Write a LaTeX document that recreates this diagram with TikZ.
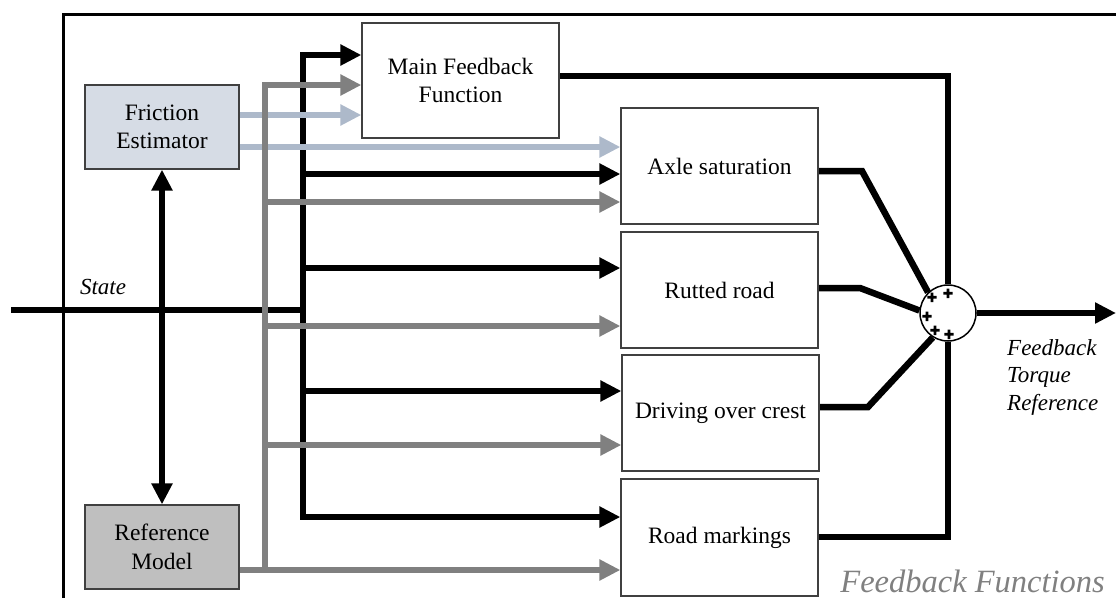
\documentclass[tikz,border=0pt]{standalone}
\usepackage{fontspec}
\setmainfont{Liberation Serif}
\newfontfamily\plusfont[FakeBold=10]{Liberation Sans}
\usetikzlibrary{arrows.meta}
\definecolor{feblue}{RGB}{214,220,229}
\definecolor{lbarrow}{RGB}{173,185,202}
\definecolor{rmgray}{RGB}{191,191,191}
\definecolor{garrow}{RGB}{128,128,128}
\definecolor{boxline}{RGB}{64,64,64}
\definecolor{fftext}{RGB}{128,128,128}
\pgfdeclarelayer{background}
\pgfsetlayers{background,main}
\begin{document}
\begin{tikzpicture}[x=1pt,y=-1pt,
  >={Triangle[length=21pt,width=20pt]},
  box/.style={draw=boxline,line width=1.2pt,fill=white,inner sep=0pt,align=center,
    minimum width=197pt,minimum height=116pt,font=\fontsize{23.5}{28.5}\selectfont},
  sbox/.style={box,minimum width=154pt,minimum height=84pt},
  bk/.style={line width=6.5pt,draw=black,line join=miter},
  gy/.style={line width=6.5pt,draw=garrow,line join=miter},
  lb/.style={line width=6.5pt,draw=lbarrow,line join=miter},
  sumc/.style={circle,draw=black,line width=1.5pt,fill=white,minimum size=56pt,inner sep=0pt},
  plusm/.style={inner sep=0pt,font=\plusfont\fontsize{16}{16}\selectfont},
  lbl/.style={inner sep=0pt,font=\fontsize{23}{27.5}\selectfont\itshape}]
\useasboundingbox (0,0) rectangle (1116,597);
% frame
\draw[line width=3pt] (63,610) -- (63,14) -- (1130,14);
% blocks
\node[sbox,fill=feblue] (fe) at (162,127) {Friction\\Estimator};
\node[sbox,fill=rmgray] (rm) at (162,547) {Reference\\Model};
\node[box,minimum height=115pt] (mf) at (460.5,80.5) {Main Feedback\\Function};
\node[box] (ax) at (719.5,166) {Axle saturation};
\node[box] (rr) at (719.5,290) {Rutted road};
\node[box] (dc) at (720.5,413) {Driving over crest};
\node[box,minimum height=117pt] (rmk) at (719.5,537.5) {Road markings};
\node[sumc] (sum) at (948,313) {};
\node[plusm] (p1) at (932,298) {+};
\node[plusm] (p2) at (948,294) {+};
\node[plusm] (p3) at (927,317) {+};
\node[plusm] (p4) at (935,331) {+};
\node[plusm] (p5) at (949,335) {+};
% coordinates
\coordinate (sIn) at (11,310);
\coordinate (bJ) at (303,310);
\coordinate (b1) at (303,55);
\coordinate (b2) at (303,174);
\coordinate (b3) at (303,268);
\coordinate (b4) at (303,391);
\coordinate (b5) at (303,517);
\coordinate (g1) at (265,85);
\coordinate (g2) at (265,202);
\coordinate (g3) at (265,326);
\coordinate (g4) at (265,445);
\coordinate (g5) at (265,570);
\coordinate (l1) at (239,115);
\coordinate (l2) at (239,147);
\coordinate (o1) at (948,76);
\coordinate (o2) at (862,171);
\coordinate (o3) at (860,288);
\coordinate (o4) at (868,407);
\coordinate (o5) at (948,537);
\coordinate (out) at (1116,313);
\begin{pgfonlayer}{background}
% black bus
\draw[bk] (sIn) -- (bJ);
\draw[bk,->] (b3) -- (b1) -- (b1 -| mf.west);
\draw[bk,->] (b3) -- (b5) -- (b5 -| rmk.west);
\draw[bk,->] (b2) -- (b2 -| ax.west);
\draw[bk,->] (b3) -- (b3 -| rr.west);
\draw[bk,->] (b4) -- (b4 -| dc.west);
\draw[bk,<->] (fe.south) -- (rm.north);
% light blue
\draw[lb,->] (l1) -- (l1 -| mf.west);
\draw[lb,->] (l2) -- (l2 -| ax.west);
% gray bus
\draw[gy,->] (rm.east |- g5) -- (g5 -| rmk.west);
\draw[gy,->] (g5) -- (g1) -- (g1 -| mf.west);
\draw[gy,->] (g2) -- (g2 -| ax.west);
\draw[gy,->] (g3) -- (g3 -| rr.west);
\draw[gy,->] (g4) -- (g4 -| dc.west);
% outputs
\draw[bk] (mf.east |- o1) -- (o1) -- (sum.north);
\draw[bk] (ax.east |- o2) -- (o2) -- (sum.134);
\draw[bk] (rr.east |- o3) -- (o3) -- (sum.175);
\draw[bk] (dc.east |- o4) -- (o4) -- (sum.238);
\draw[bk] (rmk.east |- o5) -- (o5) -- (sum.south);
\draw[bk,->] (sum.east) -- (out);
\end{pgfonlayer}
% labels
\node[lbl,anchor=base] (st) at (103,294) {State};
\node[lbl,anchor=north west,align=left] (ftr) at (1007,339) {Feedback\\Torque\\Reference};
\node[inner sep=0pt,anchor=base east,text=fftext,font=\fontsize{32.5}{36}\selectfont\itshape] (ff) at (1105,592) {Feedback Functions};
\end{tikzpicture}
\end{document}
